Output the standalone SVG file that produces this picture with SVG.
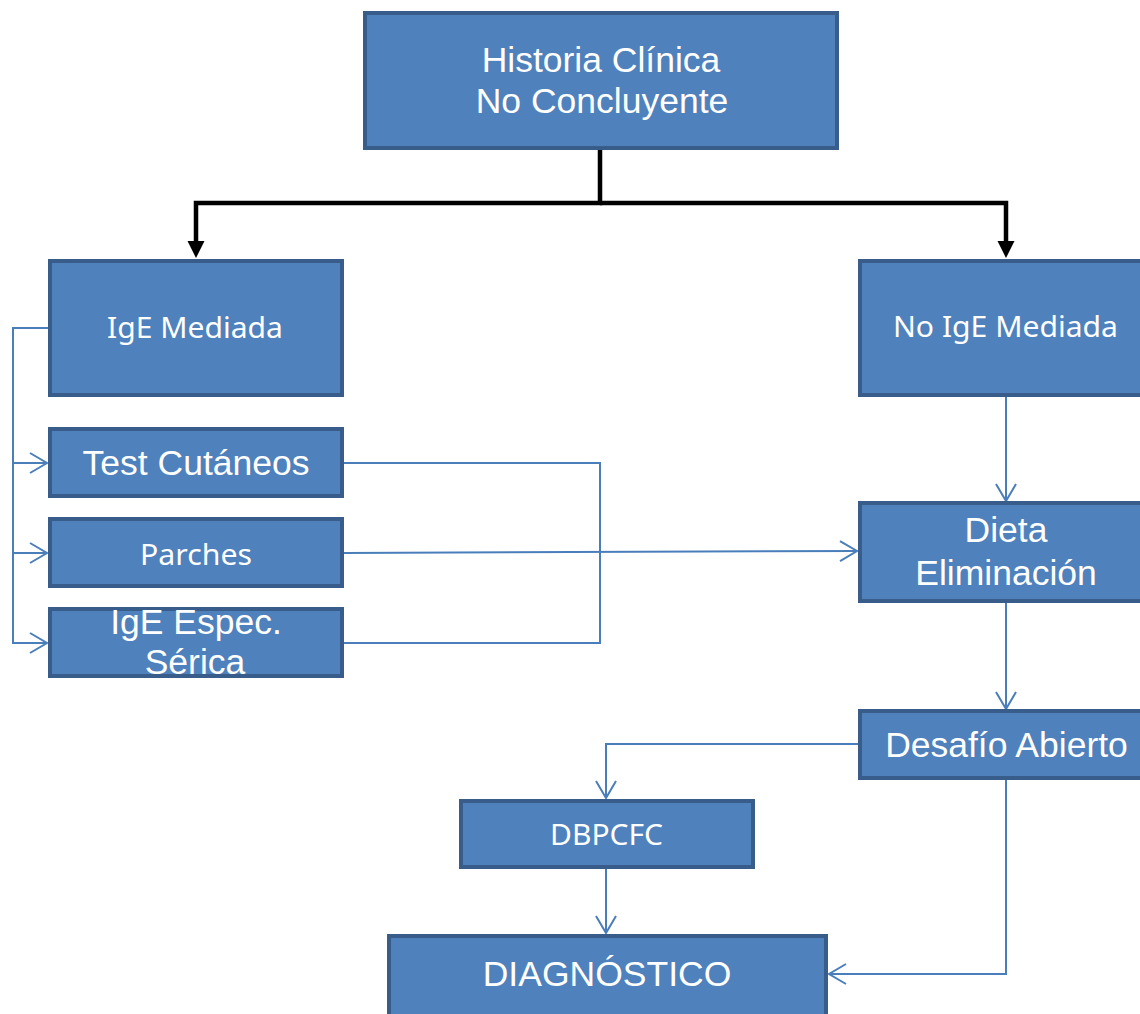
<svg xmlns="http://www.w3.org/2000/svg" width="1140" height="1014" viewBox="0 0 1140 1014">
  <style>
    .box { fill: #4f81bd; stroke: #385d8a; stroke-width: 4; }
    .lbl { fill: #ffffff; text-anchor: middle; font-family: "Liberation Sans", Arial, sans-serif; font-size: 35.5px; }
    .lbl2 { fill: #ffffff; text-anchor: middle; font-family: "Noto Sans", "Open Sans", sans-serif; font-size: 29px; }
    .flow { fill: none; stroke: #4a7ebb; stroke-width: 2; }
    .main { fill: none; stroke: #000000; stroke-width: 4.5; }
  </style>
  <defs>
    <marker id="open" viewBox="-20 -12 22 24" refX="0" refY="0" markerWidth="22" markerHeight="24" orient="auto" markerUnits="userSpaceOnUse">
      <path d="M-17,-10 L0,0 L-17,10" fill="none" stroke="#4a7ebb" stroke-width="2"/>
    </marker>
    <marker id="solid" viewBox="-18 -10 19 20" refX="-12" refY="0" markerWidth="19" markerHeight="20" orient="auto" markerUnits="userSpaceOnUse">
      <path d="M-17,-8.5 L0,0 L-17,8.5 Z" fill="#000000"/>
    </marker>
  </defs>

  <!-- connectors -->
  <g id="connectors">
    <path class="main" d="M600,149 V203 H196 V246" marker-end="url(#solid)"/>
    <path class="main" d="M600,203 H1006 V246" marker-end="url(#solid)"/>

    <path class="flow" d="M50,328 H13 V643 H47" marker-end="url(#open)"/>
    <path class="flow" d="M13,463 H47" marker-end="url(#open)"/>
    <path class="flow" d="M13,553 H47" marker-end="url(#open)"/>

    <path class="flow" d="M344,463 H600 V643 H344"/>
    <path class="flow" d="M344,553 L857,551" marker-end="url(#open)"/>

    <path class="flow" d="M1006,397 V501" marker-end="url(#open)"/>
    <path class="flow" d="M1006,603 V709" marker-end="url(#open)"/>
    <path class="flow" d="M858,744 H606 V798" marker-end="url(#open)"/>
    <path class="flow" d="M606,869 V933" marker-end="url(#open)"/>
    <path class="flow" d="M1006,780 V974 H829" marker-end="url(#open)"/>
  </g>

  <!-- nodes -->
  <g id="historia">
    <rect class="box" x="365" y="13" width="472" height="135"/>
    <text class="lbl" x="601" y="72" font-size="36">Historia Clínica</text>
    <text class="lbl" x="602" y="113" font-size="36">No Concluyente</text>
  </g>

  <g id="ige-mediada">
    <rect class="box" x="50" y="261" width="292" height="134"/>
    <text class="lbl2" x="195" y="338" textLength="176" lengthAdjust="spacingAndGlyphs">IgE Mediada</text>
  </g>

  <g id="test-cutaneos">
    <rect class="box" x="50" y="429" width="292" height="67"/>
    <text class="lbl" x="196" y="475">Test Cutáneos</text>
  </g>

  <g id="parches">
    <rect class="box" x="50" y="519" width="292" height="67"/>
    <text class="lbl2" x="196" y="565" textLength="112" lengthAdjust="spacingAndGlyphs">Parches</text>
  </g>

  <g id="ige-especifica">
    <rect class="box" x="50" y="609" width="292" height="67"/>
    <text class="lbl" x="196" y="634">IgE Espec.</text>
    <text class="lbl" x="195" y="674">Sérica</text>
  </g>

  <g id="no-ige-mediada">
    <rect class="box" x="860" y="261" width="292" height="134"/>
    <text class="lbl2" x="1005.5" y="337" textLength="225" lengthAdjust="spacingAndGlyphs">No IgE Mediada</text>
  </g>

  <g id="dieta">
    <rect class="box" x="860" y="503" width="292" height="98"/>
    <text class="lbl" x="1006" y="542">Dieta</text>
    <text class="lbl" x="1006" y="585">Eliminación</text>
  </g>

  <g id="desafio">
    <rect class="box" x="860" y="711" width="292" height="67"/>
    <text class="lbl" x="1006.5" y="757">Desafío Abierto</text>
  </g>

  <g id="dbpcfc">
    <rect class="box" x="461" y="801" width="292" height="66"/>
    <text class="lbl2" x="606.5" y="845" textLength="113" lengthAdjust="spacingAndGlyphs">DBPCFC</text>
  </g>

  <g id="diagnostico">
    <rect class="box" x="389" y="936" width="437" height="90"/>
    <text class="lbl" x="607" y="986" font-size="36">DIAGNÓSTICO</text>
  </g>
</svg>
